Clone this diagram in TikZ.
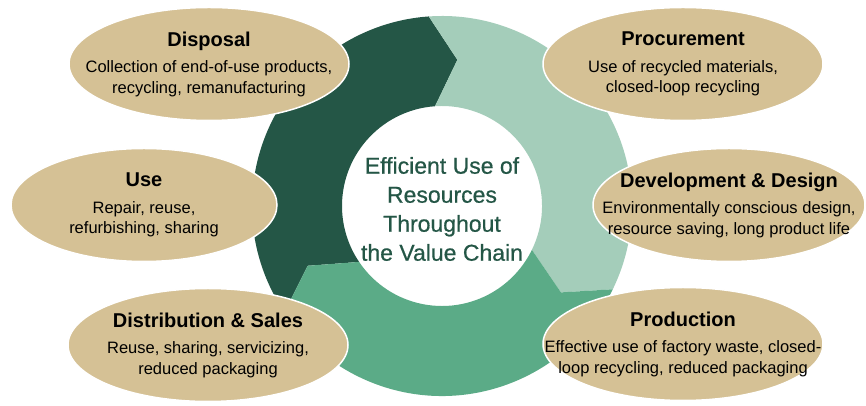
\documentclass[tikz,border=0pt]{standalone}
\usepackage{fontspec}
\setmainfont{Liberation Sans}
\usepackage{xcolor}
\usetikzlibrary{shapes,positioning,calc}

\definecolor{darkseg}{RGB}{36,86,70}
\definecolor{mintseg}{RGB}{164,205,186}
\definecolor{midseg}{RGB}{91,171,135}
\definecolor{stagetan}{RGB}{213,193,149}

\newcommand{\stagetitle}[1]{{\fontsize{20}{24}\selectfont\bfseries #1}\\[6pt]}

\begin{document}
\begin{tikzpicture}[
    x=1pt, y=1pt,
    stage/.style={ellipse, draw=white, line width=1.5pt, fill=stagetan, minimum width=280pt, minimum height=113pt, inner sep=0pt},
    stagetext/.style={align=center, font=\fontsize{16.5}{20.5}\selectfont}
]
    \useasboundingbox (0,0) rectangle (866,406);
    \coordinate (ring) at (442,200);

    % three arrow parts of the ring, head angle / colour
    \foreach \h/\col in {84/darkseg, -36/mintseg, 204/midseg}{
        \fill[\col] ($(ring)+({\h+130}:190)$) arc[start angle=\h+130, end angle=\h+10, radius=190]
            -- ($(ring)+({\h}:147)$) -- ($(ring)+({\h+10}:100)$)
            arc[start angle=\h+10, end angle=\h+130, radius=100]
            -- ($(ring)+({\h+120}:147)$) -- cycle;
    }

    \node[align=center, text=darkseg, font=\fontsize{23}{29}\selectfont\addfontfeature{FakeBold=0.6}] (centre) at ($(ring)+(0,-3)$)
        {Efficient Use of\\Resources\\Throughout\\the Value Chain};

    \node[stage] (disposal) at (209,342) {};
    \node[stage] (procurement) at (683,342) {};
    \node[stage, minimum width=266pt] (use) at (144,201) {};
    \node[stage, minimum width=272pt] (devdesign) at (729,201) {};
    \node[stage] (distsales) at (208,61) {};
    \node[stage] (production) at (683,62) {};

    \node[stagetext] (disposal-text) at (disposal) {\stagetitle{Disposal}Collection of end-of-use products,\\recycling, remanufacturing};
    \node[stagetext] (procurement-text) at (procurement) {\stagetitle{Procurement}Use of recycled materials,\\closed-loop recycling};
    \node[stagetext] (use-text) at (use) {\stagetitle{Use}Repair, reuse,\\refurbishing, sharing};
    \node[stagetext] (devdesign-text) at (devdesign) {\stagetitle{Development \& Design}Environmentally conscious design,\\resource saving, long product life};
    \node[stagetext] (distsales-text) at (distsales) {\stagetitle{Distribution \& Sales}Reuse, sharing, servicizing,\\reduced packaging};
    \node[stagetext] (production-text) at (production) {\stagetitle{Production}Effective use of factory waste, closed-\\loop recycling, reduced packaging};
\end{tikzpicture}
\end{document}
